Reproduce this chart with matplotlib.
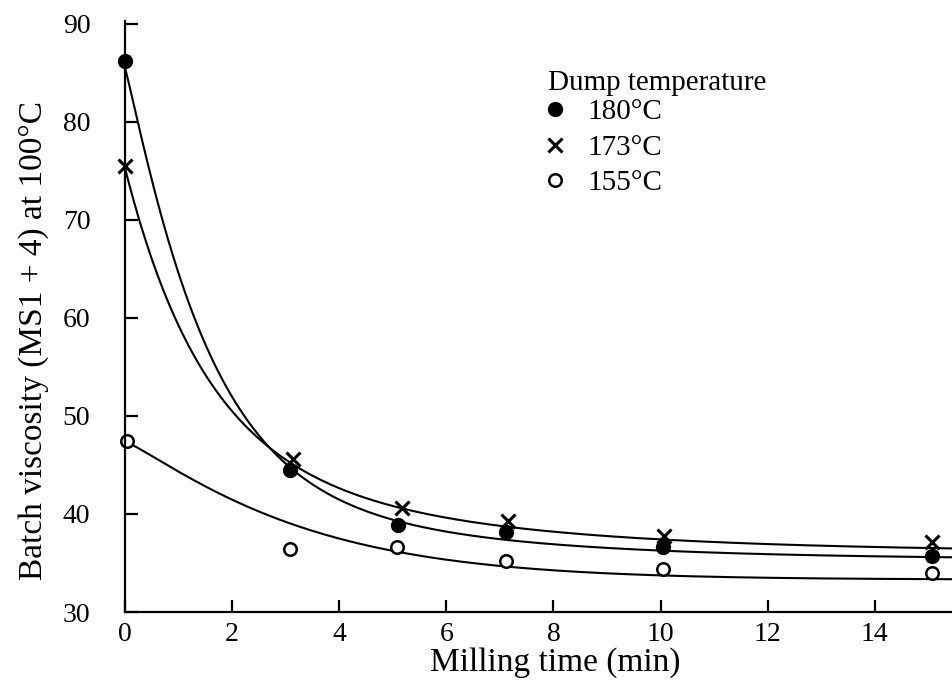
import numpy as np
import matplotlib
matplotlib.use("Agg")
import matplotlib.pyplot as plt

plt.rcParams['font.family'] = ['Liberation Serif', 'DejaVu Serif']

# measured points (milling time in min, Mooney viscosity)
temps = ["180°C", "173°C", "155°C"]
t_180 = [0.0, 3.08, 5.09, 7.11, 10.04, 15.06]
v_180 = [86.2, 44.5, 38.9, 38.2, 36.6, 35.7]
t_173 = [0.0, 3.13, 5.17, 7.15, 10.07, 15.07]
v_173 = [75.5, 45.6, 40.6, 39.3, 37.8, 37.1]
t_155 = [0.03, 3.08, 5.07, 7.11, 10.04, 15.07]
v_155 = [47.4, 36.4, 36.6, 35.2, 34.4, 34.0]

# fitted decay curves: plateau + fast term + slow term
plateau = [35.35, 36.1, 33.3]
fast_amp = [39.15, 27.7, 14.1]
fast_tau = [1.5, 1.45, 3.38]
fast_shape = [1.1, 1.0, 1.15]
slow_amp = [11.0, 11.5, 0.0]
slow_tau = [4.0, 4.55, 1.0]

fig = plt.figure(figsize=(9.52, 6.88), dpi=100)
ax = fig.add_axes([125/952, 1 - 612/688, 827/952, 591/688])

tt = np.linspace(0, 15.44, 400)
for i in range(3):
    curve = (plateau[i] + fast_amp[i] * np.exp(-(tt / fast_tau[i]) ** fast_shape[i])
             + slow_amp[i] * np.exp(-tt / slow_tau[i]))
    ax.plot(tt, curve, color='black', lw=1.5, clip_on=False)

ax.plot(t_180, v_180, 'o', ms=10, color='black', ls='none', clip_on=False, label=temps[0])
ax.plot(t_173, v_173, 'x', ms=10, mew=2.2, color='black', ls='none', clip_on=False, label=temps[1])
ax.plot(t_155, v_155, 'o', ms=9, mew=1.8, mfc='white', mec='black', ls='none',
        clip_on=False, label=temps[2])

ax.set_xlim(0, 15.44)
ax.set_ylim(30, 90.3)
ax.set_xticks(range(0, 15, 2))
ax.set_yticks(range(30, 91, 10))
ax.spines['top'].set_visible(False)
ax.spines['right'].set_visible(False)
for s in ['left', 'bottom']:
    ax.spines[s].set_linewidth(1.6)
ax.tick_params(axis='both', direction='in', length=9, width=1.6, labelsize=20)
ax.tick_params(axis='y', pad=25)
ax.tick_params(axis='x', pad=7)

ax.set_xlabel('Milling time (min)', fontsize=24)
ax.xaxis.set_label_coords((555 - 125) / 827, -0.06)
ax.set_ylabel('Batch viscosity (MS1 + 4) at 100°C', fontsize=24)
ax.yaxis.set_label_coords(-0.092, 0.46)

# legend heading as its own text, entries below it
ax.text(0.511, 0.895, 'Dump temperature', transform=ax.transAxes, fontsize=21,
        ha='left', va='center')
leg = ax.legend(loc='upper left', bbox_to_anchor=(0.511, 0.868),
                frameon=False, fontsize=21, handlelength=0.5, handletextpad=0.85,
                labelspacing=0.31, borderpad=0, borderaxespad=0)

fig.savefig('out.png', dpi=100)
